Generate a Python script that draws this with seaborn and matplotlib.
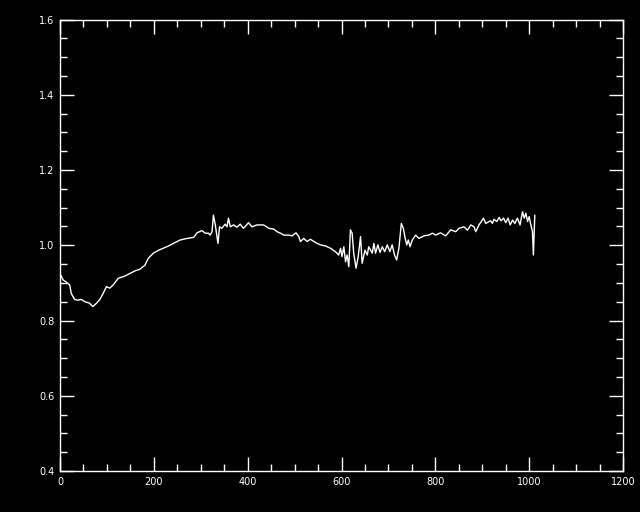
import numpy as np
import pandas as pd
import matplotlib
matplotlib.use("Agg")
import matplotlib.pyplot as plt
import seaborn as sns
from matplotlib.ticker import MultipleLocator

x_vals = [1.5, 6.4, 13.5, 20.7, 24, 31, 38, 45, 53, 63, 70, 78, 85, 92, 99, 106, 113, 124, 138, 149,
          160, 170, 181, 188, 199, 209, 220, 231, 242, 256, 270.5, 285, 292, 302.6, 309.6, 316.7,
          320, 324, 327, 331, 334.6, 336.7, 340, 345, 352, 356, 359, 363, 370, 377, 384, 391, 402,
          409, 420, 434, 445, 455.5, 462.7, 470, 477, 487.5, 494.8, 503, 509, 512.5, 519.5, 526.8,
          533.8, 541, 548, 555, 566, 576.6, 587, 594, 598, 601, 605, 608.6, 612, 615.6, 619, 622.7,
          626, 631, 635.6, 640.6, 644, 650, 655, 658, 665.6, 669, 672.6, 677.5, 682, 687, 692,
          697.6, 703, 708, 713, 717.5, 722.4, 727.5, 731.8, 735, 739, 742.5, 746, 751, 758, 765,
          776, 786, 793.7, 800.8, 811, 822, 832.8, 843.5, 850.6, 861, 868.5, 875.5, 882.6, 886,
          889.6, 893, 898, 902.6, 907.5, 914.6, 918, 921.7, 925, 931, 936, 939.7, 945.5, 950, 955,
          959.5, 964.6, 969.5, 975, 980.6, 985.8, 989.5, 993, 996.6, 1000, 1003.6, 1007, 1009, 1012]
y_vals = [0.921, 0.908, 0.902, 0.894, 0.872, 0.856, 0.854, 0.856, 0.850, 0.846, 0.837, 0.846, 0.856,
          0.872, 0.890, 0.886, 0.894, 0.912, 0.918, 0.925, 0.932, 0.936, 0.947, 0.965, 0.979, 0.986,
          0.992, 0.998, 1.005, 1.014, 1.018, 1.021, 1.033, 1.039, 1.032, 1.032, 1.027, 1.036, 1.080,
          1.054, 1.023, 1.005, 1.049, 1.045, 1.056, 1.049, 1.072, 1.049, 1.054, 1.048, 1.056, 1.045,
          1.060, 1.049, 1.054, 1.054, 1.045, 1.043, 1.036, 1.032, 1.027, 1.027, 1.025, 1.033, 1.023,
          1.010, 1.018, 1.010, 1.016, 1.010, 1.005, 1.001, 0.998, 0.992, 0.983, 0.974, 0.992, 0.970,
          0.996, 0.956, 0.974, 0.943, 1.041, 1.032, 0.979, 0.939, 0.970, 1.023, 0.952, 0.987, 0.974,
          0.996, 0.979, 1.005, 0.979, 1.001, 0.981, 0.996, 0.983, 1.001, 0.983, 1.001, 0.974, 0.961,
          0.992, 1.058, 1.045, 1.023, 1.001, 1.014, 0.996, 1.014, 1.027, 1.018, 1.025, 1.027, 1.032,
          1.027, 1.033, 1.025, 1.041, 1.036, 1.045, 1.049, 1.040, 1.054, 1.049, 1.036, 1.045, 1.054,
          1.063, 1.072, 1.058, 1.063, 1.065, 1.058, 1.069, 1.063, 1.074, 1.065, 1.072, 1.060, 1.072,
          1.054, 1.067, 1.058, 1.072, 1.054, 1.089, 1.072, 1.085, 1.063, 1.076, 1.054, 1.036, 0.974,
          1.080]

df = pd.DataFrame({"x": x_vals, "y": y_vals})

sns.set_theme(style="ticks")
plt.rcParams.update({
    "font.family": ["DejaVu Sans"],
    "figure.facecolor": "black",
    "axes.facecolor": "black",
    "axes.edgecolor": "white",
    "text.color": "white",
    "xtick.color": "white",
    "ytick.color": "white",
})

fig = plt.figure(figsize=(6.4, 5.12), dpi=100)
ax = fig.add_axes([60 / 640, 41 / 512, 563 / 640, 451.5 / 512])
sns.lineplot(data=df, x="x", y="y", ax=ax, color="white", linewidth=1.0, estimator=None, sort=False)

ax.set_xlim(0, 1200)
ax.set_ylim(0.4, 1.6)
ax.xaxis.set_major_locator(MultipleLocator(200))
ax.xaxis.set_minor_locator(MultipleLocator(50))
ax.yaxis.set_major_locator(MultipleLocator(0.2))
ax.yaxis.set_minor_locator(MultipleLocator(0.05))
ax.yaxis.set_major_formatter(matplotlib.ticker.FormatStrFormatter("%.1f"))
ax.tick_params(which="both", direction="in", top=True, right=True, colors="white",
               labelsize=7, width=1.0)
ax.tick_params(which="major", length=10, pad=4)
ax.tick_params(which="minor", length=5)
ax.set_xlabel("")
ax.set_ylabel("")
for s in ax.spines.values():
    s.set_color("white")
    s.set_linewidth(1.0)

fig.savefig("out.png", dpi=100, facecolor="black")
